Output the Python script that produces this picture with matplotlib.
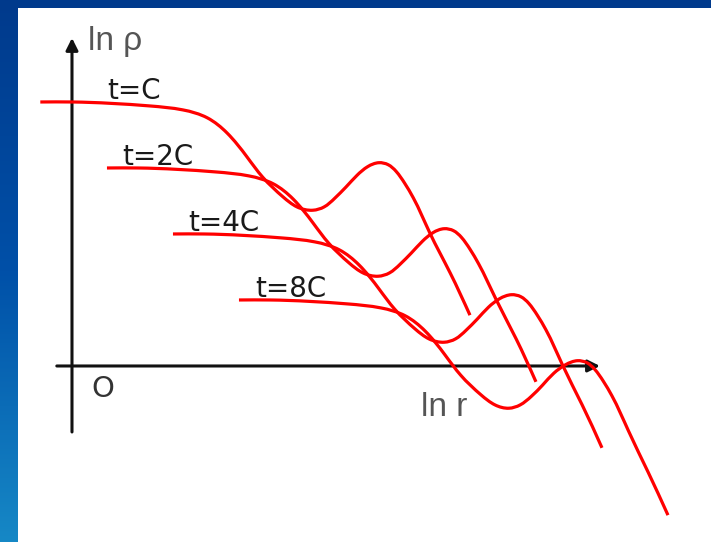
import numpy as np
import matplotlib.pyplot as plt
from matplotlib.path import Path
from matplotlib.patches import PathPatch
from matplotlib.colors import to_rgb

# density profiles ln(rho) vs ln(r) at successive times (t = C, 2C, 4C, 8C)
labels = ["t=C", "t=2C", "t=4C", "t=8C"]

x_c = [-0.48, 0.0, 1.18, 1.68, 2.05, 2.35, 2.65, 2.89, 3.20, 3.41, 3.65, 3.82, 3.98, 4.15,
       4.32, 4.48, 4.65, 4.79, 4.91, 5.04, 5.17, 5.42, 5.73, 6.03]
y_c = [4.00, 4.00, 3.94, 3.88, 3.76, 3.53, 3.17, 2.86, 2.56, 2.41, 2.36, 2.41, 2.54, 2.71,
       2.89, 3.02, 3.08, 3.05, 2.95, 2.77, 2.55, 2.02, 1.41, 0.77]

x_2c = [0.53, 1.0, 2.18, 2.68, 3.05, 3.35, 3.65, 3.89, 4.20, 4.41, 4.64, 4.81, 4.97, 5.14,
        5.31, 5.47, 5.64, 5.78, 5.90, 6.03, 6.16, 6.42, 6.73, 7.03]
y_2c = [3.00, 3.00, 2.94, 2.88, 2.76, 2.53, 2.17, 1.86, 1.56, 1.41, 1.36, 1.41, 1.54, 1.71,
        1.89, 2.02, 2.08, 2.05, 1.95, 1.77, 1.55, 1.02, 0.41, -0.24]

x_4c = [1.53, 2.0, 3.18, 3.68, 4.05, 4.35, 4.65, 4.89, 5.20, 5.41, 5.64, 5.81, 5.97, 6.14,
        6.31, 6.48, 6.66, 6.80, 6.92, 7.05, 7.18, 7.43, 7.73, 8.03]
y_4c = [2.00, 2.00, 1.94, 1.88, 1.76, 1.53, 1.17, 0.86, 0.56, 0.41, 0.36, 0.41, 0.54, 0.71,
        0.89, 1.02, 1.08, 1.05, 0.95, 0.77, 0.55, 0.02, -0.59, -1.24]

x_8c = [2.53, 3.0, 4.18, 4.68, 5.05, 5.35, 5.65, 5.89, 6.20, 6.41, 6.62, 6.79, 6.96, 7.13,
        7.30, 7.48, 7.66, 7.80, 7.92, 8.05, 8.18, 8.43, 8.73, 9.03]
y_8c = [1.00, 1.00, 0.94, 0.88, 0.76, 0.53, 0.17, -0.14, -0.44, -0.59, -0.64, -0.59, -0.46, -0.29,
        -0.11, 0.02, 0.08, 0.05, -0.05, -0.23, -0.45, -0.98, -1.61, -2.26]

# where each label's baseline starts
label_x = [0.53, 0.76, 1.76, 2.77]
label_y = [4.04, 3.04, 2.04, 1.04]


def smooth_path(xs, ys):
    """Natural cubic spline (chord-length parameter) through the knots,
    handed to matplotlib as cubic Bezier segments."""
    p = np.column_stack([xs, ys]).astype(float)
    n = len(p)
    h = np.linalg.norm(np.diff(p, axis=0), axis=1)
    A = np.zeros((n, n))
    rhs = np.zeros((n, 2))
    A[0, 0], A[0, 1] = 2.0, 1.0
    rhs[0] = 3 * (p[1] - p[0]) / h[0]
    A[-1, -2], A[-1, -1] = 1.0, 2.0
    rhs[-1] = 3 * (p[-1] - p[-2]) / h[-1]
    for i in range(1, n - 1):
        A[i, i - 1] = 1 / h[i - 1]
        A[i, i] = 2 * (1 / h[i - 1] + 1 / h[i])
        A[i, i + 1] = 1 / h[i]
        rhs[i] = 3 * ((p[i] - p[i - 1]) / h[i - 1] ** 2 + (p[i + 1] - p[i]) / h[i] ** 2)
    D = np.linalg.solve(A, rhs)
    verts = [p[0]]
    codes = [Path.MOVETO]
    for i in range(n - 1):
        verts += [p[i] + D[i] * h[i] / 3.0, p[i + 1] - D[i + 1] * h[i] / 3.0, p[i + 1]]
        codes += [Path.CURVE4] * 3
    return Path(verts, codes)


fig = plt.figure(figsize=(7.11, 5.42), dpi=100)

# blue slide background
bg = fig.add_axes([0, 0, 1, 1])
stops = [to_rgb("#003a8c"), to_rgb("#0050a8"), to_rgb("#1688c6")]
t = np.linspace(0, 1, 256)
grad = np.empty((256, 1, 3))
for k in range(3):
    grad[:, 0, k] = np.interp(t, [0, 0.5, 1], [s[k] for s in stops])
bg.imshow(grad, aspect="auto", extent=[0, 1, 0, 1])
bg.set_axis_off()

# white drawing area
ax = fig.add_axes([18 / 711, 0, 693 / 711, 534 / 542])
ax.set_facecolor("white")
for s in ax.spines.values():
    s.set_visible(False)
ax.set_xticks([])
ax.set_yticks([])
ax.set_xlim(-0.818, 9.682)
ax.set_ylim(-2.667, 5.424)

# axes with arrows
arrow = dict(arrowstyle="-|>,head_length=0.6,head_width=0.3", color="#111111",
             lw=2.2, mutation_scale=12, shrinkA=0, shrinkB=0)
ax.annotate("", xy=(0, 4.97), xytext=(0, -1.0), arrowprops=arrow, zorder=2)
ax.annotate("", xy=(8.0, 0), xytext=(-0.23, 0), arrowprops=arrow, zorder=2)

# curves
for xs, ys in [(x_c, y_c), (x_2c, y_2c), (x_4c, y_4c), (x_8c, y_8c)]:
    ax.add_patch(PathPatch(smooth_path(xs, ys), facecolor="none",
                           edgecolor="#ff0000", lw=2.3, zorder=3,
                           capstyle="butt", joinstyle="round"))

for lab, lx, ly in zip(labels, label_x, label_y):
    ax.text(lx, ly, lab, fontsize=20, color="#1a1a1a", family="DejaVu Sans",
            ha="left", va="baseline", zorder=4)

narrow = ["Liberation Sans Narrow", "Liberation Sans", "DejaVu Sans"]
ax.text(0.24, 4.79, "ln ρ", fontsize=24, color="#555555", family=narrow,
        ha="left", va="baseline")
ax.text(5.29, -0.76, "ln r", fontsize=24, color="#555555", family=narrow,
        ha="left", va="baseline")
ax.text(0.30, -0.14, "O", fontsize=21, color="#333333", family="DejaVu Sans",
        ha="left", va="top")

fig.savefig("out.png", dpi=100)
